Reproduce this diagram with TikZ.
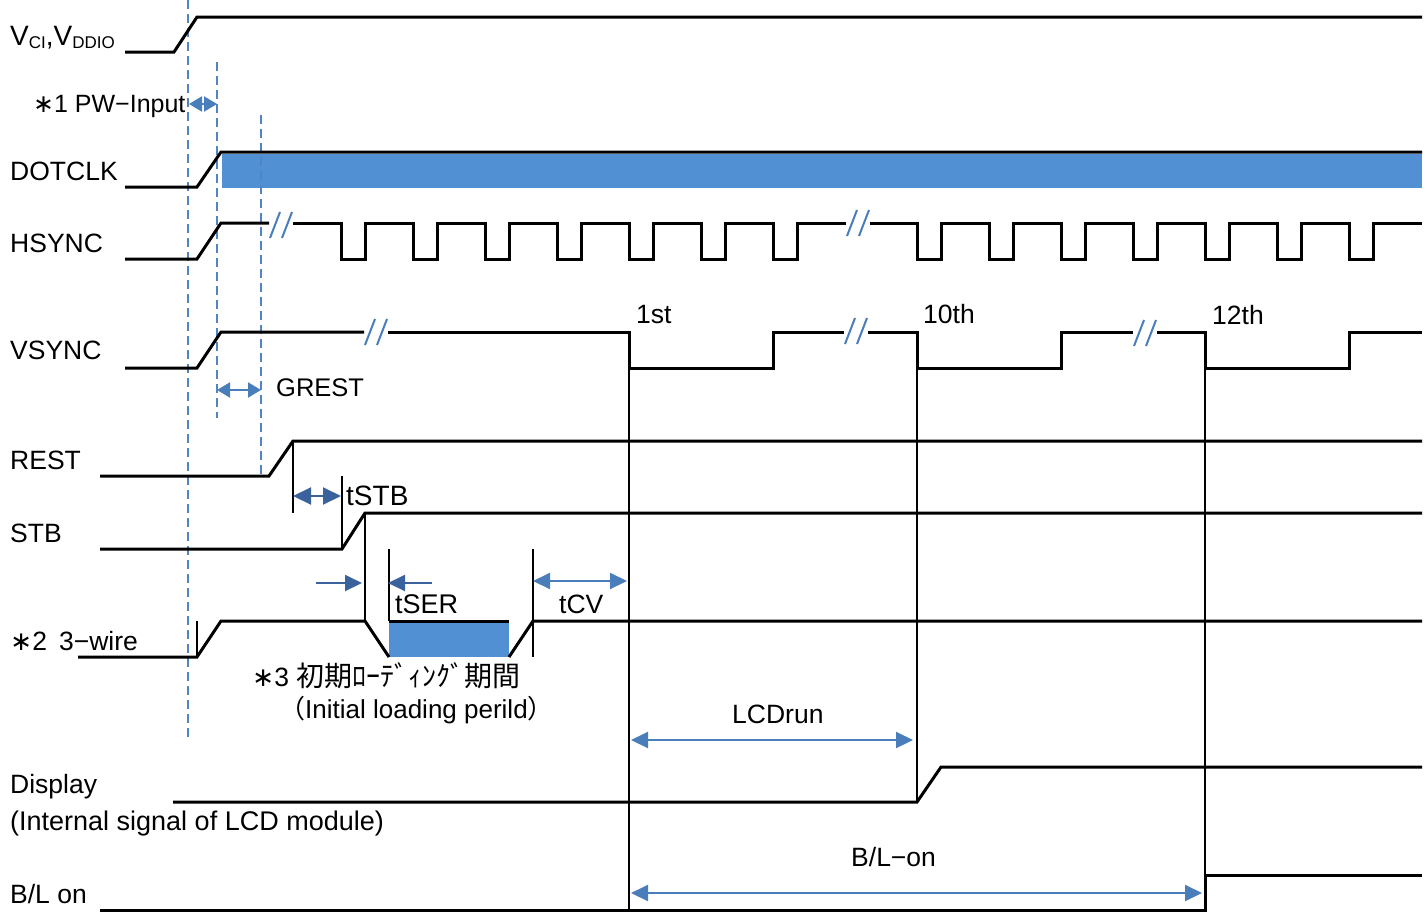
\documentclass[tikz,border=0pt]{standalone}
\usepackage{fontspec}
\setmainfont{Liberation Sans}
\newfontfamily\jp{Noto Sans CJK JP}
\newfontfamily\djv{DejaVu Sans}
\usetikzlibrary{arrows.meta}
\definecolor{ab}{RGB}{74,126,187}
\definecolor{adb}{RGB}{58,99,158}
\definecolor{fillb}{RGB}{82,144,212}
\definecolor{dshc}{RGB}{80,132,196}
\newcommand\brkmark[2]{\draw[brkl] ({#1+1},{#2+13}) -- ({#1+11},{#2-13}) ({#1+13},{#2+13}) -- ({#1+23},{#2-13});}
\newcommand\astk{{\djv ∗}}
\begin{document}
\begin{tikzpicture}[x=1pt,y=-1pt,
  sig/.style={line width=3pt, line join=miter},
  thinl/.style={line width=1.2pt},
  dsh/.style={draw=dshc, line width=2.2pt, dash pattern=on 9pt off 5pt},
  brkl/.style={draw=ab, line width=2pt},
  dimarr/.style={draw=ab, line width=2pt, {Triangle[length=17pt,width=16pt]}-{Triangle[length=17pt,width=16pt]}},
  smarr/.style={draw=ab, line width=2pt, {Triangle[length=13pt,width=15pt]}-{Triangle[length=13pt,width=15pt]}},
  darr/.style={draw=adb, line width=2pt, {Triangle[length=18pt,width=17pt]}-{Triangle[length=18pt,width=17pt]}},
  sarr/.style={draw=adb, line width=2pt, -{Triangle[length=17pt,width=16pt]}},
  lbl/.style={inner sep=0pt, anchor=base west, font=\fontsize{26.5}{30}\selectfont},
]
\useasboundingbox (0,0) rectangle (1427,911);

% fills
\fill[fillb] (222,154) rectangle (1422,188);
\fill[fillb] (389,622) rectangle (509,657);

% dashed guides
\draw[dsh] (188,0) -- (188,737);
\draw[dsh] (217,62) -- (217,418);
\draw[dsh] (261,115) -- (261,478);

% thin guide lines
\draw[thinl] (629,368) -- (629,911);
\draw[thinl] (917,368) -- (917,802);
\draw[thinl] (1205,368) -- (1205,874);
\draw[thinl] (293,441) -- (293,513);
\draw[thinl] (342,476) -- (342,549);
\draw[thinl] (365,513) -- (365,621);
\draw[thinl] (389,549) -- (389,621);
\draw[thinl] (533,549) -- (533,657);
\draw[thinl] (197,621) -- (197,657);

% VCI
\draw[sig] (125,52) -- (174,52) -- (197,17) -- (1422,17);
% DOTCLK
\draw[sig] (125,187) -- (197,187) -- (221,152) -- (1422,152);
% HSYNC
\draw[sig] (125,259) -- (197,259) -- (221,223) -- (269,223);
\draw[sig] (293,223) foreach \k in {0,...,6} { -- ({341+72*\k},223) -- ({341+72*\k},259) -- ({365+72*\k},259) -- ({365+72*\k},223) } -- (846,223);
\draw[sig] (870,223) foreach \k in {0,...,6} { -- ({917+72*\k},223) -- ({917+72*\k},259) -- ({941+72*\k},259) -- ({941+72*\k},223) } -- (1422,223);
\brkmark{269}{225}
\brkmark{846}{223}
% VSYNC
\draw[sig] (125,368) -- (197,368) -- (221,332) -- (364,332);
\draw[sig] (388,332) -- (629,332) -- (629,368) -- (773,368) -- (773,332) -- (844,332);
\draw[sig] (868,332) -- (917,332) -- (917,368) -- (1061,368) -- (1061,332) -- (1133,332);
\draw[sig] (1157,332) -- (1205,332) -- (1205,368) -- (1349,368) -- (1349,332) -- (1422,332);
\brkmark{364}{332}
\brkmark{844}{331}
\brkmark{1133}{333}
% REST
\draw[sig] (100,476) -- (269,476) -- (293,441) -- (1422,441);
% STB
\draw[sig] (100,549) -- (342,549) -- (365,513) -- (1422,513);
% 3-wire
\draw[sig] (78,657) -- (197,657) -- (221,621) -- (365,621) -- (389,657);
\draw[sig] (389,621) -- (509,621);
\draw[sig] (509,657) -- (533,621) -- (1422,621);
% Display
\draw[sig] (173,802) -- (917,802) -- (941,767) -- (1422,767);
% B/L on
\draw[sig] (100,910) -- (1205,910) -- (1205,875) -- (1422,875);

% dimension arrows
\draw[smarr] (189,104) -- (217,104);
\draw[smarr] (217,390) -- (261,390);
\draw[darr] (293,496) -- (341,496);
\draw[sarr] (316,583) -- (362,583);
\draw[sarr] (432,583) -- (388,583);
\draw[dimarr] (533,581) -- (627,581);
\draw[dimarr] (631,740) -- (913,740);
\draw[dimarr] (631,893) -- (1202,893);

% labels
\node[lbl] (lvci) at (10,45) {\fontsize{28}{30}\selectfont V\raisebox{-3pt}{\fontsize{17}{17}\selectfont CI},V\raisebox{-3pt}{\fontsize{17}{17}\selectfont DDIO}};
\node[lbl, font=\fontsize{25}{28}\selectfont] (lpw) at (33,112) {\astk1 PW−Input};
\node[lbl] (ldot) at (10,180) {DOTCLK};
\node[lbl] (lhs) at (10,252) {HSYNC};
\node[lbl] (lvs) at (10,359) {VSYNC};
\node[lbl, font=\fontsize{25.5}{30}\selectfont] (lgr) at (276,396) {GREST};
\node[lbl] (lrest) at (10,469) {REST};
\node[lbl, font=\fontsize{28}{30}\selectfont] (ltstb) at (346,505) {tSTB};
\node[lbl] (lstb) at (10,542) {STB};
\node[lbl, font=\fontsize{27}{30}\selectfont] (ltser) at (395,613) {tSER};
\node[lbl] (ltcv) at (559,613) {tCV};
\node[lbl] (l3w) at (10,650) {\astk2\hspace{12pt}3−wire};
\node[lbl] (linit) at (252,686) {\astk3 {\jp\fontsize{28}{30}\selectfont 初期ﾛｰﾃﾞｨﾝｸﾞ期間}};
\node[lbl, font=\fontsize{26}{30}\selectfont] (linit2) at (279,718) {{\jp （}Initial loading perild{\jp ）}};
\node[lbl] (l1st) at (636,323) {1st};
\node[lbl] (l10th) at (923,323) {10th};
\node[lbl] (l12th) at (1212,324) {12th};
\node[lbl] (llcd) at (732,723) {LCDrun};
\node[lbl] (ldisp) at (10,793) {Display};
\node[lbl, font=\fontsize{27}{30}\selectfont] (ldisp2) at (10,830) {(Internal signal of LCD module)};
\node[lbl] (lblon) at (851,866) {B/L−on};
\node[lbl] (lbl2) at (10,903) {B/L on};
\end{tikzpicture}
\end{document}
